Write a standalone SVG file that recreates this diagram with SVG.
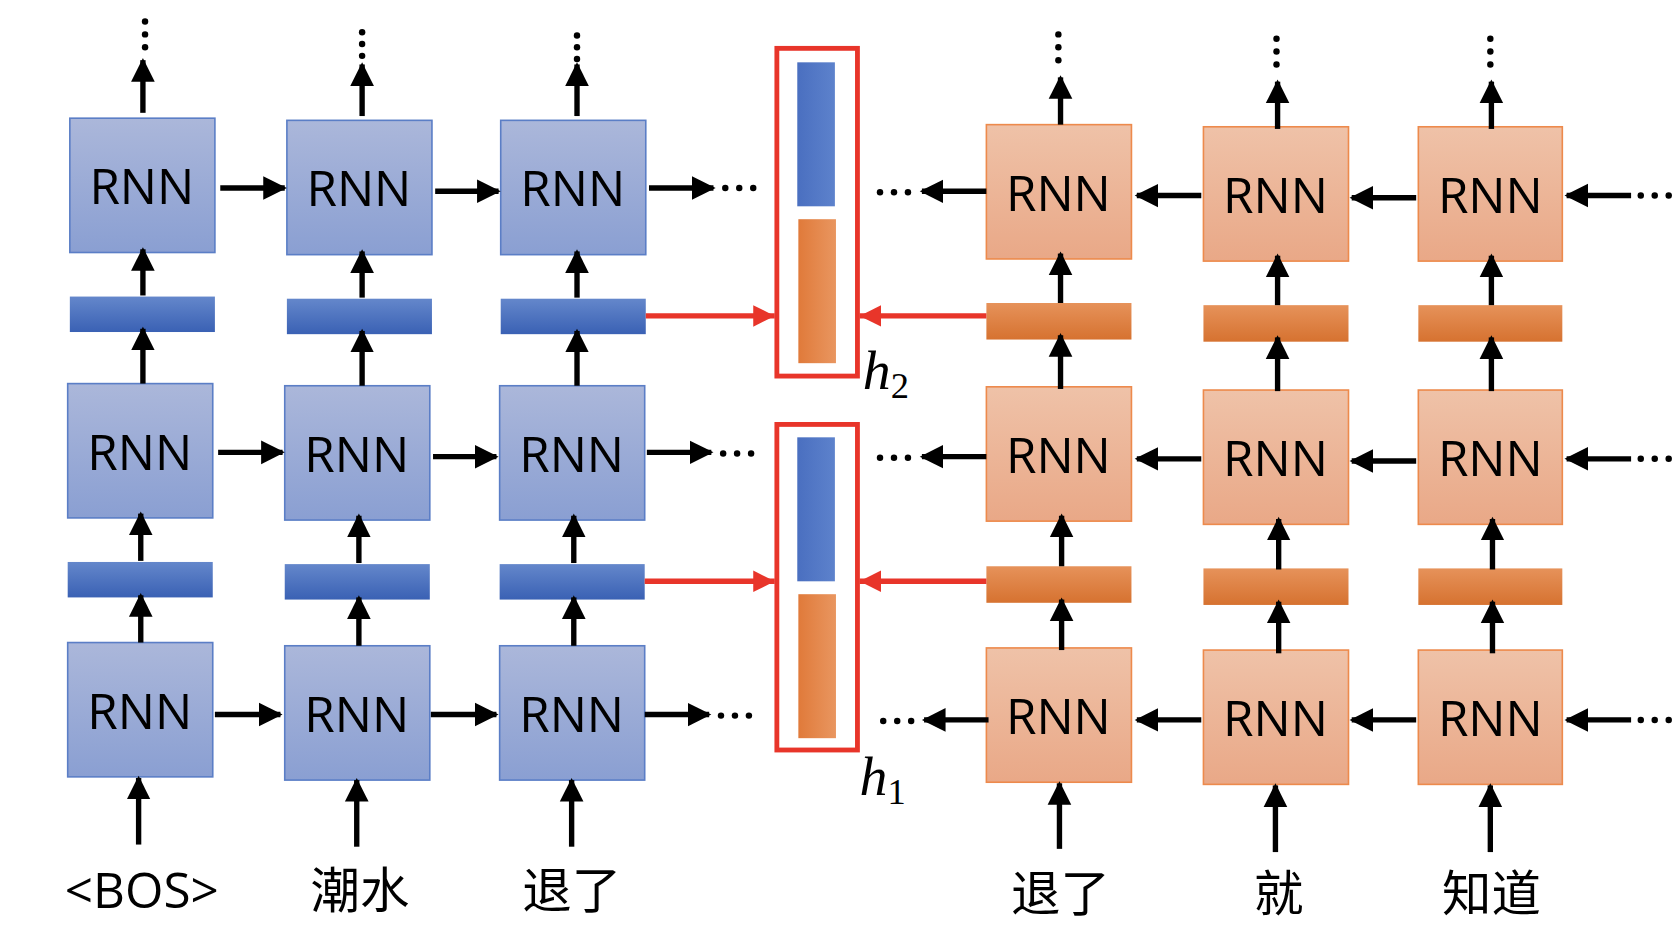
<svg xmlns="http://www.w3.org/2000/svg" width="1676" height="932" viewBox="0 0 1676 932">
<defs>
<linearGradient id="gb" x1="0" y1="0" x2="0" y2="1"><stop offset="0" stop-color="#abb7da"/><stop offset="1" stop-color="#8a9fd2"/></linearGradient>
<linearGradient id="gbb" x1="0" y1="0" x2="0" y2="1"><stop offset="0" stop-color="#6487cb"/><stop offset="1" stop-color="#3a61b4"/></linearGradient>
<linearGradient id="go" x1="0" y1="0" x2="0" y2="1"><stop offset="0" stop-color="#efc2a8"/><stop offset="1" stop-color="#e9a887"/></linearGradient>
<linearGradient id="gob" x1="0" y1="0" x2="0" y2="1"><stop offset="0" stop-color="#e6925a"/><stop offset="1" stop-color="#d67230"/></linearGradient>
<linearGradient id="gvb" x1="0" y1="0" x2="1" y2="0"><stop offset="0" stop-color="#4a6fc0"/><stop offset="1" stop-color="#5d82cc"/></linearGradient>
<linearGradient id="gvo" x1="0" y1="0" x2="1" y2="0"><stop offset="0" stop-color="#e07a3a"/><stop offset="1" stop-color="#e99660"/></linearGradient>
<marker id="ah" markerUnits="userSpaceOnUse" markerWidth="24" markerHeight="24" refX="20" refY="12" orient="auto"><path d="M0,1 L22,12 L0,23 Z" fill="#000"/></marker>
<marker id="ar" markerUnits="userSpaceOnUse" markerWidth="24" markerHeight="24" refX="20" refY="12" orient="auto"><path d="M0,2 L20,12 L0,22 Z" fill="#e8352a"/></marker>
</defs>
<style>
.bb{fill:url(#gb);stroke:#5b7ec6;stroke-width:1.5}
.bbar{fill:url(#gbb)}
.ob{fill:url(#go);stroke:#ed8a4c;stroke-width:1.5}
.obar{fill:url(#gob)}
.t{font-family:"Open Sans","Liberation Sans",sans-serif;font-size:46px;font-weight:500;text-anchor:middle;fill:#000}
.l{font-family:"Noto Sans CJK SC","Liberation Sans",sans-serif;font-size:46px;text-anchor:middle;fill:#000}
.h{font-family:"Liberation Serif",serif;font-style:italic;font-size:52px;fill:#000}
.c line{stroke:#000;stroke-width:5;marker-end:url(#ah)}
.c line.r{stroke:#e8352a;stroke-width:5;marker-end:url(#ar)}
.dot{fill:#000}
</style>
<g transform="scale(1.0745)">
<g id="b1t"><rect class="bb" x="65" y="110" width="135" height="125"/><text class="t" x="132" y="190">RNN</text></g>
<g id="b2t"><rect class="bb" x="267" y="112" width="135" height="125"/><text class="t" x="334" y="192">RNN</text></g>
<g id="b3t"><rect class="bb" x="466" y="112" width="135" height="125"/><text class="t" x="533" y="192">RNN</text></g>
<g id="b1m"><rect class="bb" x="63" y="357" width="135" height="125"/><text class="t" x="130" y="437">RNN</text></g>
<g id="b2m"><rect class="bb" x="265" y="359" width="135" height="125"/><text class="t" x="332" y="439">RNN</text></g>
<g id="b3m"><rect class="bb" x="465" y="359" width="135" height="125"/><text class="t" x="532" y="439">RNN</text></g>
<g id="b1b"><rect class="bb" x="63" y="598" width="135" height="125"/><text class="t" x="130" y="678">RNN</text></g>
<g id="b2b"><rect class="bb" x="265" y="601" width="135" height="125"/><text class="t" x="332" y="681">RNN</text></g>
<g id="b3b"><rect class="bb" x="465" y="601" width="135" height="125"/><text class="t" x="532" y="681">RNN</text></g>
<g id="bar1t"><rect class="bbar" x="65" y="276" width="135" height="33"/></g>
<g id="bar2t"><rect class="bbar" x="267" y="278" width="135" height="33"/></g>
<g id="bar3t"><rect class="bbar" x="466" y="278" width="135" height="33"/></g>
<g id="bar1b"><rect class="bbar" x="63" y="523" width="135" height="33"/></g>
<g id="bar2b"><rect class="bbar" x="265" y="525" width="135" height="33"/></g>
<g id="bar3b"><rect class="bbar" x="465" y="525" width="135" height="33"/></g>

<g id="o1t"><rect class="ob" x="918" y="116" width="135" height="125"/><text class="t" x="985" y="196">RNN</text></g>
<g id="o2t"><rect class="ob" x="1120" y="118" width="135" height="125"/><text class="t" x="1187" y="198">RNN</text></g>
<g id="o3t"><rect class="ob" x="1320" y="118" width="134" height="125"/><text class="t" x="1387" y="198">RNN</text></g>
<g id="o1m"><rect class="ob" x="918" y="360" width="135" height="125"/><text class="t" x="985" y="440">RNN</text></g>
<g id="o2m"><rect class="ob" x="1120" y="363" width="135" height="125"/><text class="t" x="1187" y="443">RNN</text></g>
<g id="o3m"><rect class="ob" x="1320" y="363" width="134" height="125"/><text class="t" x="1387" y="443">RNN</text></g>
<g id="o1b"><rect class="ob" x="918" y="603" width="135" height="125"/><text class="t" x="985" y="683">RNN</text></g>
<g id="o2b"><rect class="ob" x="1120" y="605" width="135" height="125"/><text class="t" x="1187" y="685">RNN</text></g>
<g id="o3b"><rect class="ob" x="1320" y="605" width="134" height="125"/><text class="t" x="1387" y="685">RNN</text></g>
<g id="obar1t"><rect class="obar" x="918" y="282" width="135" height="34"/></g>
<g id="obar2t"><rect class="obar" x="1120" y="284" width="135" height="34"/></g>
<g id="obar3t"><rect class="obar" x="1320" y="284" width="134" height="34"/></g>
<g id="obar1b"><rect class="obar" x="918" y="527" width="135" height="34"/></g>
<g id="obar2b"><rect class="obar" x="1120" y="529" width="135" height="34"/></g>
<g id="obar3b"><rect class="obar" x="1320" y="529" width="134" height="34"/></g>

<g id="h2box"><rect x="723" y="45" width="75" height="305" fill="none" stroke="#e8352a" stroke-width="4.5"/><rect x="742" y="58" width="35" height="134" fill="url(#gvb)"/><rect x="743" y="204" width="35" height="134" fill="url(#gvo)"/><text class="h" x="803" y="362">h<tspan font-style="normal" font-size="34" dy="8">2</tspan></text></g>
<g id="h1box"><rect x="723" y="395" width="75" height="303" fill="none" stroke="#e8352a" stroke-width="4.5"/><rect x="742" y="407" width="35" height="134" fill="url(#gvb)"/><rect x="743" y="553" width="35" height="134" fill="url(#gvo)"/><text class="h" x="800" y="740">h<tspan font-style="normal" font-size="34" dy="8">1</tspan></text></g>

<g id="labels">
<text class="t" x="132" y="845">&lt;BOS&gt;</text>
<text class="l" x="335" y="845">潮水</text>
<text class="l" x="532" y="845">退了</text>
<text class="l" x="987" y="848">退了</text>
<text class="l" x="1190" y="848">就</text>
<text class="l" x="1388" y="848">知道</text>
</g>

<g id="connectors" class="c">
<line x1="133" y1="105" x2="133" y2="56"/><line x1="337" y1="108" x2="337" y2="60"/><line x1="537" y1="108" x2="537" y2="60"/>
<line x1="133" y1="275" x2="133" y2="232"/><line x1="337" y1="277" x2="337" y2="234"/><line x1="537" y1="277" x2="537" y2="234"/>
<line x1="133" y1="357" x2="133" y2="306"/><line x1="337" y1="359" x2="337" y2="308"/><line x1="537" y1="359" x2="537" y2="308"/>
<line x1="131" y1="522" x2="131" y2="478"/><line x1="334" y1="524" x2="334" y2="480"/><line x1="534" y1="524" x2="534" y2="480"/>
<line x1="131" y1="598" x2="131" y2="554"/><line x1="334" y1="601" x2="334" y2="556"/><line x1="534" y1="601" x2="534" y2="556"/>
<line x1="129" y1="786" x2="129" y2="724"/><line x1="332" y1="788" x2="332" y2="726"/><line x1="532" y1="788" x2="532" y2="726"/>
<line x1="205" y1="175" x2="265" y2="175"/><line x1="405" y1="178" x2="464" y2="178"/><line x1="604" y1="175" x2="664" y2="175"/>
<line x1="203" y1="421" x2="263" y2="421"/><line x1="403" y1="425" x2="462" y2="425"/><line x1="602" y1="421" x2="662" y2="421"/>
<line x1="200" y1="665" x2="261" y2="665"/><line x1="401" y1="665" x2="462" y2="665"/><line x1="600" y1="665" x2="660" y2="665"/>
<line x1="987" y1="116" x2="987" y2="72"/><line x1="1189" y1="120" x2="1189" y2="76"/><line x1="1388" y1="120" x2="1388" y2="76"/>
<line x1="987" y1="282" x2="987" y2="236"/><line x1="1189" y1="284" x2="1189" y2="238"/><line x1="1388" y1="284" x2="1388" y2="238"/>
<line x1="987" y1="362" x2="987" y2="312"/><line x1="1189" y1="364" x2="1189" y2="314"/><line x1="1388" y1="364" x2="1388" y2="314"/>
<line x1="988" y1="527" x2="988" y2="480"/><line x1="1190" y1="530" x2="1190" y2="483"/><line x1="1389" y1="530" x2="1389" y2="483"/>
<line x1="988" y1="605" x2="988" y2="558"/><line x1="1190" y1="608" x2="1190" y2="560"/><line x1="1389" y1="608" x2="1389" y2="560"/>
<line x1="986" y1="790" x2="986" y2="729"/><line x1="1187" y1="793" x2="1187" y2="731"/><line x1="1387" y1="793" x2="1387" y2="731"/>
<line x1="918" y1="178" x2="858" y2="178"/><line x1="1118" y1="182" x2="1058" y2="182"/><line x1="1318" y1="184" x2="1258" y2="184"/><line x1="1518" y1="182" x2="1458" y2="182"/>
<line x1="918" y1="425" x2="858" y2="425"/><line x1="1118" y1="427" x2="1058" y2="427"/><line x1="1318" y1="429" x2="1258" y2="429"/><line x1="1518" y1="427" x2="1458" y2="427"/>
<line x1="920" y1="670" x2="860" y2="670"/><line x1="1118" y1="670" x2="1058" y2="670"/><line x1="1318" y1="670" x2="1258" y2="670"/><line x1="1518" y1="670" x2="1458" y2="670"/>
<line class="r" x1="601" y1="294" x2="721" y2="294"/><line class="r" x1="918" y1="294" x2="800" y2="294"/>
<line class="r" x1="600" y1="541" x2="721" y2="541"/><line class="r" x1="918" y1="541" x2="800" y2="541"/>
<g class="dot">
<circle cx="135" cy="20" r="3"/><circle cx="135" cy="32" r="3"/><circle cx="135" cy="44" r="3"/>
<circle cx="337" cy="30" r="3"/><circle cx="337" cy="41" r="3"/><circle cx="337" cy="52" r="3"/>
<circle cx="537" cy="33" r="3"/><circle cx="537" cy="44" r="3"/><circle cx="537" cy="55" r="3"/>
<circle cx="985" cy="32" r="3"/><circle cx="985" cy="44" r="3"/><circle cx="985" cy="56" r="3"/>
<circle cx="1188" cy="36" r="3"/><circle cx="1188" cy="48" r="3"/><circle cx="1188" cy="60" r="3"/>
<circle cx="1387" cy="36" r="3"/><circle cx="1387" cy="48" r="3"/><circle cx="1387" cy="60" r="3"/>
<circle cx="675" cy="175" r="3"/><circle cx="688" cy="175" r="3"/><circle cx="701" cy="175" r="3"/>
<circle cx="673" cy="422" r="3"/><circle cx="686" cy="422" r="3"/><circle cx="699" cy="422" r="3"/>
<circle cx="671" cy="666" r="3"/><circle cx="684" cy="666" r="3"/><circle cx="697" cy="666" r="3"/>
<circle cx="819" cy="179" r="3"/><circle cx="832" cy="179" r="3"/><circle cx="845" cy="179" r="3"/>
<circle cx="819" cy="426" r="3"/><circle cx="832" cy="426" r="3"/><circle cx="845" cy="426" r="3"/>
<circle cx="822" cy="671" r="3"/><circle cx="835" cy="671" r="3"/><circle cx="848" cy="671" r="3"/>
<circle cx="1527" cy="182" r="3"/><circle cx="1540" cy="182" r="3"/><circle cx="1553" cy="182" r="3"/>
<circle cx="1527" cy="427" r="3"/><circle cx="1540" cy="427" r="3"/><circle cx="1553" cy="427" r="3"/>
<circle cx="1527" cy="670" r="3"/><circle cx="1540" cy="670" r="3"/><circle cx="1553" cy="670" r="3"/>
</g>
</g>
</g>
</svg>
